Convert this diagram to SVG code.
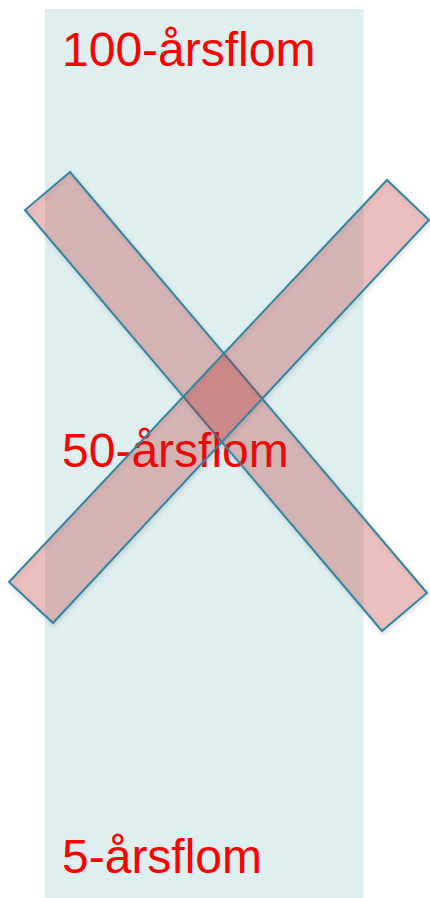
<svg xmlns="http://www.w3.org/2000/svg" width="430" height="898" viewBox="0 0 430 898">
<style>
.lbl{font-family:"Liberation Sans",Arial,sans-serif;font-size:48px;fill:#FF0000}
.bar{fill:rgb(195,30,30);fill-opacity:0.25;stroke:#3386A4;stroke-width:2;stroke-linejoin:miter}
</style>
<defs>
<filter id="sh" x="-10%" y="-10%" width="120%" height="120%">
<feGaussianBlur in="SourceAlpha" stdDeviation="2"/>
<feOffset dx="1" dy="2" result="b"/>
<feComponentTransfer><feFuncA type="linear" slope="0.2"/></feComponentTransfer>
<feMerge><feMergeNode/><feMergeNode in="SourceGraphic"/></feMerge>
</filter>
</defs>
<rect width="430" height="898" fill="#FFFFFF"/>
<g id="zone"><rect x="45" y="9" width="318.5" height="889" fill="#DFEFEF"/></g>
<g id="label-100"><text class="lbl" x="62" y="66">100-årsflom</text></g>
<g id="label-50"><text class="lbl" x="62" y="467">50-årsflom</text></g>
<g id="label-5"><text class="lbl" x="62" y="873">5-årsflom</text></g>
<g id="cross">
<g id="bar-1"><polygon class="bar" filter="url(#sh)" points="70,172 25,210 382,631 427,593"/></g>
<g id="bar-2"><polygon class="bar" filter="url(#sh)" points="387,180 429,220 53,623 9,582"/></g>
</g>
</svg>
